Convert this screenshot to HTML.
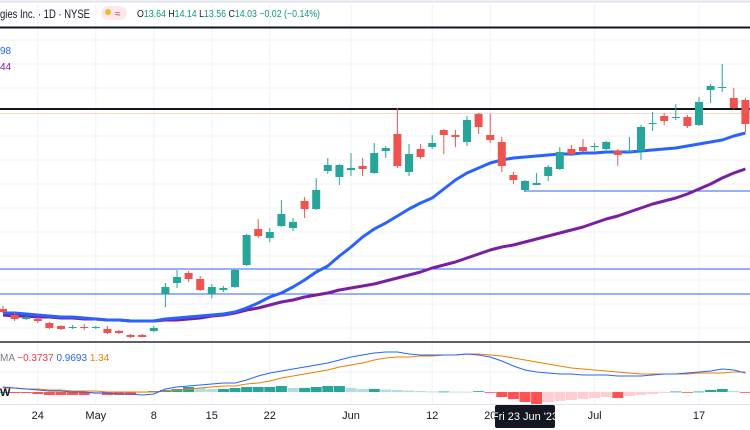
<!DOCTYPE html>
<html><head><meta charset="utf-8">
<style>
html,body{margin:0;padding:0;background:#fff;width:750px;height:430px;overflow:hidden;font-family:"Liberation Sans",sans-serif;}
svg{display:block}
</style></head>
<body>
<svg id="chart" width="750" height="430" viewBox="0 0 750 430" xmlns="http://www.w3.org/2000/svg">
  <rect x="0" y="0" width="750" height="430" fill="#ffffff"/>
  <line x1="0" y1="1.5" x2="750" y2="1.5" stroke="#e0e3eb" stroke-width="2"/>
  <g id="grid"></g>
  <g id="levels">
    <line x1="0" y1="27.5" x2="750" y2="27.5" stroke="#131722" stroke-width="2"/>
    <line x1="0" y1="109" x2="750" y2="109" stroke="#131722" stroke-width="2"/>
    <line x1="0" y1="113.5" x2="750" y2="113.5" stroke="#f0dcc8" stroke-width="1"/>
    <line x1="524" y1="191" x2="750" y2="191" stroke="#2962ff" stroke-width="1"/>
    <line x1="0" y1="269" x2="750" y2="269" stroke="#2962ff" stroke-width="1"/>
    <line x1="0" y1="294" x2="750" y2="294" stroke="#2962ff" stroke-width="1"/>
  </g>
  <g id="mas"></g>
  <g id="candles"></g>
  <line x1="0" y1="342" x2="750" y2="342" stroke="#5d606b" stroke-width="2"/>
  <g id="macd"></g>
  <line x1="0" y1="404.5" x2="750" y2="404.5" stroke="#e0e3eb" stroke-width="1"/>
  <g id="xaxis"></g>

  <text x="0" y="18" font-size="12" fill="#131722" textLength="90" lengthAdjust="spacingAndGlyphs">gies Inc. · 1D · NYSE</text>
  <rect x="101" y="6" width="26" height="14" rx="7" fill="#fde9ec"/>
  <circle cx="108" cy="12" r="3" fill="#f7b731"/>
  <text x="115" y="17" font-size="10" fill="#e91e63">≈</text>
  <text x="137" y="17" font-size="10" fill="#089981" textLength="183" lengthAdjust="spacingAndGlyphs"><tspan fill="#131722">O</tspan>13.64 <tspan fill="#131722">H</tspan>14.14 <tspan fill="#131722">L</tspan>13.56 <tspan fill="#131722">C</tspan>14.03 −0.02 (−0.14%)</text>
  <text x="0" y="54" font-size="10" fill="#2962ff">98</text>
  <text x="0" y="70" font-size="10" fill="#7b1fa2">44</text>
  <text x="0" y="361" font-size="10" fill="#787b86">MA <tspan fill="#f23645">−0.3737</tspan> <tspan fill="#2962ff">0.9693</tspan> <tspan fill="#f57c00">1.34</tspan></text>
  <text x="0" y="396" font-size="11" font-weight="bold" fill="#131722">W</text>
</svg>
<script>
const NS='http://www.w3.org/2000/svg';
const dates=["Apr19","Apr20","Apr21","Apr24","Apr25","Apr26","Apr27","Apr28","May1","May2","May3","May4","May5","May8","May9","May10","May11","May12","May15","May16","May17","May18","May19","May22","May23","May24","May25","May26","May30","May31","Jun1","Jun2","Jun5","Jun6","Jun7","Jun8","Jun9","Jun12","Jun13","Jun14","Jun15","Jun16","Jun20","Jun21","Jun22","Jun23","Jun26","Jun27","Jun28","Jun29","Jun30","Jul3","Jul5","Jul6","Jul7","Jul10","Jul11","Jul12","Jul13","Jul14","Jul17","Jul18","Jul19","Jul20","Jul21"];
const opens=[11.1,10.5,10.1,10.1,9.7,9.4,9.2,9.3,9.2,9.1,8.9,8.5,8.5,8.9,12.6,13.7,14.7,14.1,12.6,13.0,13.3,15.5,19.1,18.2,19.4,19.2,21.9,21.1,24.9,24.3,25.0,25.4,24.7,26.9,28.6,24.8,27.1,27.3,29.0,28.5,27.8,30.6,28.5,27.8,24.5,23.0,23.5,24.4,25.1,27.1,27.3,27.3,27.1,26.9,26.8,26.9,29.6,30.4,30.2,30.3,29.5,33.0,33.2,32.2,32.0];
const highs=[11.4,10.8,10.4,10.3,9.8,9.5,9.5,9.6,9.4,9.4,9.0,8.6,8.6,9.4,13.7,15.0,14.9,14.4,13.6,13.4,15.1,18.6,20.1,19.2,22.0,20.2,22.3,24.2,26.2,25.6,26.7,26.2,27.7,27.4,31.2,27.6,27.6,28.5,29.1,29.0,30.4,30.7,30.6,28.3,24.8,24.0,24.7,25.5,27.3,27.5,28.1,27.7,27.9,27.1,28.3,29.5,30.8,30.7,31.6,30.5,32.3,33.6,35.6,33.2,32.2];
const lows=[10.7,9.9,10.0,9.7,9.1,9.0,9.1,9.0,9.1,8.6,8.6,8.2,8.3,8.8,11.3,13.2,13.8,12.9,12.2,12.8,13.2,15.4,18.2,17.8,19.3,18.9,20.2,21.0,24.6,23.5,24.4,24.4,24.6,26.2,25.2,24.4,26.1,27.1,26.6,27.3,27.4,28.6,27.7,24.8,23.6,22.8,23.5,23.9,25.0,26.4,26.8,26.9,27.0,25.4,26.8,26.0,28.9,29.5,30.0,29.2,29.4,31.7,32.8,31.1,28.8];
const closes=[10.8,10.1,10.3,9.9,9.2,9.1,9.3,9.2,9.3,8.7,8.7,8.3,8.3,9.2,13.3,14.3,14.1,13.0,13.3,13.2,15.0,18.5,18.4,18.8,20.6,19.8,21.1,23.0,25.5,25.5,25.2,25.1,26.7,27.2,25.4,26.6,26.3,27.7,28.5,28.3,30.0,29.3,28.0,25.4,24.0,23.9,23.7,25.3,26.8,26.6,26.9,27.4,27.8,26.5,26.9,29.3,29.7,29.9,30.3,29.4,31.8,33.4,33.3,31.2,29.6];
const ema20=[10.7,10.7,10.6,10.5,10.4,10.3,10.3,10.2,10.1,10.0,10.0,9.9,9.9,9.9,10.1,10.2,10.3,10.4,10.5,10.6,10.8,11.2,11.7,12.3,12.7,13.3,14.0,14.8,15.4,16.4,17.3,18.3,19.1,19.7,20.4,21.1,21.7,22.2,23.1,24.0,24.7,25.2,25.7,26.0,26.2,26.3,26.4,26.5,26.6,26.6,26.7,26.7,26.8,26.8,26.8,26.9,27.0,27.1,27.2,27.4,27.6,27.8,28.0,28.4,28.7];
const sma50=[10.5,10.4,10.4,10.3,10.3,10.2,10.2,10.1,10.1,10.0,10.0,9.9,9.9,9.9,10.0,10.0,10.1,10.2,10.4,10.5,10.7,11.0,11.2,11.5,11.8,12.0,12.3,12.5,12.7,13.0,13.2,13.4,13.6,13.9,14.2,14.5,14.8,15.2,15.5,15.8,16.2,16.6,17.0,17.3,17.5,17.8,18.1,18.4,18.7,19.0,19.3,19.7,20.1,20.4,20.8,21.2,21.6,21.9,22.2,22.6,23.1,23.6,24.2,24.7,25.1];
const macdLine=[0.5,0.4,0.3,0.2,0.1,0.1,0,0,-0.1,-0.1,-0.2,-0.2,-0.3,-0.2,0.3,0.5,0.6,0.7,0.8,0.9,0.9,1.2,1.6,1.9,2.1,2.3,2.5,2.7,2.9,3.2,3.5,3.7,3.9,4.0,4.0,3.8,3.7,3.7,3.7,3.7,3.8,3.7,3.5,3.1,2.6,2.2,2.0,1.9,1.8,1.8,1.7,1.7,1.7,1.6,1.6,1.6,1.7,1.8,1.8,1.9,2.0,2.1,2.3,2.2,1.9];
const signalLine=[0.4,0.4,0.3,0.3,0.2,0.2,0.1,0.1,0.1,0,0,0,0,0,0.1,0.2,0.3,0.4,0.5,0.6,0.6,0.8,0.9,1.1,1.4,1.6,1.8,2.0,2.2,2.5,2.7,2.9,3.2,3.4,3.5,3.5,3.6,3.6,3.7,3.7,3.8,3.8,3.7,3.6,3.4,3.2,3.0,2.8,2.6,2.4,2.3,2.2,2.1,2.0,1.9,1.8,1.8,1.8,1.8,1.8,1.9,1.9,1.9,2.0,2.0];
const histogram=[0,-0.1,-0.1,-0.2,-0.3,-0.3,-0.3,-0.3,-0.2,-0.3,-0.3,-0.3,-0.1,0.1,0.2,0.3,0.5,0.4,0.3,0.3,0.4,0.5,0.5,0.5,0.6,0.4,0.4,0.5,0.6,0.6,0.4,0.3,0.3,0.25,0.2,0.15,0.1,0.05,0.05,0.03,0.02,0.08,-0.05,-0.5,-0.7,-1.0,-1.2,-1.0,-0.9,-0.8,-0.7,-0.6,-0.5,-0.6,-0.4,-0.3,-0.2,-0.1,0.05,-0.02,0.05,0.2,0.3,0.1,-0.05];
const tickLabels=["24","May","8","15","22","Jun","12","20","Jul","17"];
const tickIndex=[3,8,13,18,23,30,37,42,51,60];

function xScale(i){return 3+i*11.6;}
function yPrice(p){return 420-p*10;}
function yMacd(v){return 392-v*10;}
function mk(tag,attrs,parent){const e=document.createElementNS(NS,tag);for(const k in attrs)e.setAttribute(k,attrs[k]);parent.appendChild(e);return e;}

const grid=document.getElementById('grid');
tickIndex.forEach(function(ti){
  const gl=mk('line',{x1:xScale(ti),y1:4,x2:xScale(ti),y2:404,stroke:'#f0f3fa','stroke-width':1},grid);
  
  
});
[40,64,88,136,160,184,208,232,256,280,304,328,372,392].forEach(function(gy){
  const hl=mk('line',{x1:0,y1:gy,x2:750,y2:gy,stroke:'#f0f3fa','stroke-width':1},grid);
  
  
});

const mas=document.getElementById('mas');
function linePath(arr,yf){return arr.map(function(v,i){return (i?'L':'M')+xScale(i).toFixed(1)+' '+yf(v).toFixed(1);}).join(' ');}
const smaPath=mk('path',{d:linePath(sma50,yPrice),fill:'none',stroke:'#7b1fa2','stroke-width':3,'stroke-linejoin':'round'},mas);


const emaPath=mk('path',{d:linePath(ema20,yPrice),fill:'none',stroke:'#2962ff','stroke-width':3,'stroke-linejoin':'round'},mas);



const cg=document.getElementById('candles');
for(let i=0;i<dates.length;i++){
  const up=closes[i]>=opens[i];
  const col=up?'#26a69a':'#ef5350';
  const x=xScale(i);
  const g=mk('g',{},cg);
  
  
  mk('line',{x1:x,y1:yPrice(highs[i]),x2:x,y2:yPrice(lows[i]),stroke:col,'stroke-width':1},g);
  const top=yPrice(Math.max(opens[i],closes[i])),bot=yPrice(Math.min(opens[i],closes[i]));
  mk('rect',{x:x-4,y:top,width:8,height:Math.max(1,bot-top),fill:col},g);
}

const mg=document.getElementById('macd');
for(let i=0;i<histogram.length;i++){
  const v=histogram[i],prev=i?histogram[i-1]:0;
  let col;
  if(v>=0)col=(v>=prev)?'#26a69a':'#b2dfdb';else col=(v<=prev)?'#ff5252':'#ffcdd2';
  const y0=yMacd(0),y1=yMacd(v);
  const b=mk('rect',{x:xScale(i)-5.5,y:Math.min(y0,y1),width:11,height:Math.max(0.8,Math.abs(y1-y0)),fill:col},mg);
  
  
}
const sigP=mk('path',{d:linePath(signalLine,yMacd),fill:'none',stroke:'#f57c00','stroke-width':1},mg);


const macP=mk('path',{d:linePath(macdLine,yMacd),fill:'none',stroke:'#2962ff','stroke-width':1},mg);



const xa=document.getElementById('xaxis');
tickLabels.forEach(function(t,k){
  const tx=mk('text',{x:xScale(tickIndex[k]),y:419,'font-size':11,fill:'#131722','text-anchor':'middle'},xa);
  tx.textContent=t;
  
  
});
const hi=45;
const tip=mk('g',{},xa);


mk('rect',{x:xScale(hi)-30,y:405,width:60,height:23,rx:2,fill:'#131722'},tip);
const tt=mk('text',{x:xScale(hi),y:420,'font-size':11,fill:'#ffffff','text-anchor':'middle'},tip);
tt.textContent="Fri 23 Jun '23";
</script>
</body></html>
